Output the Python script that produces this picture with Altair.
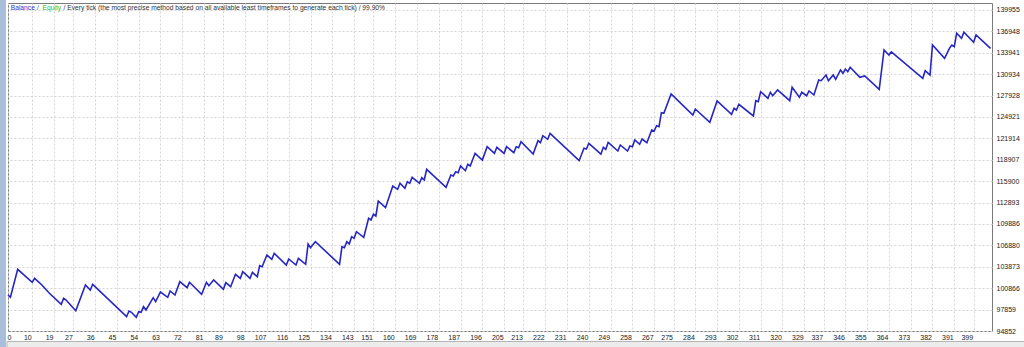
import altair as alt
import pandas as pd

# ---- data ----
trades = [0, 1, 4, 10, 11, 14, 17, 22, 23, 24, 28, 32, 34, 35, 49, 50, 51, 53, 54, 55,
          56, 57, 60, 61, 63, 66, 67, 69, 71, 74, 75, 80, 82, 83, 85, 89, 90, 92, 94, 96,
          97, 100, 101, 103, 104, 105, 107, 109, 110, 115, 116, 119, 120, 123, 124, 125, 127, 137, 138, 139,
          140, 141, 142, 143, 144, 147, 149, 150, 151, 152, 153, 156, 159, 161, 162, 164, 165, 166, 167, 170,
          171, 172, 173, 181, 183, 184, 185, 186, 187, 189, 190, 191, 193, 196, 198, 201, 202, 205, 206, 209,
          210, 211, 212, 217, 219, 220, 221, 223, 224, 236, 238, 239, 240, 245, 246, 247, 248, 252, 253, 256,
          257, 258, 259, 261, 262, 264, 266, 267, 268, 269, 270, 271, 274, 283, 284, 290, 293, 299, 300, 301,
          302, 308, 309, 310, 311, 314, 315, 316, 318, 323, 324, 327, 328, 330, 331, 333, 335, 336, 338, 339,
          341, 342, 344, 345, 346, 347, 348, 352, 354, 360, 362, 364, 365, 378, 379, 381, 382, 387, 389, 390,
          391, 392, 394, 395, 399, 400, 406]

balance = [99910, 99587, 103521, 101694, 102256, 101315, 100191, 98603, 99446, 99208,
           97704, 101315, 100613, 101413, 96861, 97662, 97479, 96777, 97564, 97479,
           98266, 97803, 99531, 98969, 100332, 99587, 100472, 99910, 101779, 100936,
           101694, 100008, 101694, 101217, 102018, 100711, 101638, 101076, 102818, 102256,
           103184, 102256, 103099, 102481, 104027, 103886, 105530, 104926, 105769, 104125,
           104968, 104125, 105066, 104223, 107076, 106556, 107399, 104223, 106696, 106556,
           107399, 107076, 108101, 107876, 108804, 108017, 110686, 110448, 111248, 111010,
           113117, 112176, 115225, 114761, 115604, 114901, 115829, 115604, 116447, 115604,
           116391, 116068, 117571, 115042, 116770, 116630, 117234, 117093, 118035, 117374,
           118273, 118035, 119819, 118878, 120746, 119819, 120662, 119819, 120746, 119903,
           120746, 120606, 121449, 119721, 121589, 121308, 122292, 121786, 122629, 118779,
           120521, 120423, 121224, 119692, 120662, 120381, 121364, 120142, 120985, 120142,
           120845, 120746, 121688, 121083, 121828, 121308, 123093, 122952, 123697, 123556,
           125523, 125439, 128151, 125200, 126043, 124174, 127167, 125298, 126141, 125903,
           126703, 125060, 127209, 127069, 128474, 127546, 128389, 127912, 128713, 127209,
           129092, 127687, 128389, 127912, 128572, 128010, 130118, 130019, 130820, 130019,
           130820, 130216, 131523, 131059, 131663, 131284, 131902, 130497, 130680, 128811,
           134333, 133630, 134052, 130356, 131424, 130820, 135035, 133166, 134571, 135035,
           134796, 136679, 135976, 136819, 135414, 136440, 134571]

x_ticks = [0, 10, 19, 27, 36, 45, 54, 63, 72, 81, 89, 98, 107, 116, 125, 134, 143, 151,
           160, 169, 178, 187, 196, 205, 213, 222, 231, 240, 249, 258, 267, 275, 284, 293,
           302, 311, 320, 329, 337, 346, 355, 364, 373, 382, 391, 399]
y_ticks = [94852, 97859, 100866, 103873, 106880, 109886, 112893, 115900, 118907,
           121914, 124921, 127928, 130934, 133941, 136948, 139955]

header_parts = ["Balance", "/", "Equity",
                "/ Every tick (the most precise method based on all available least timeframes to generate each tick) / 99.90%"]

df = pd.DataFrame({"trade": trades, "balance": balance})

FONT = "Liberation Sans"
x_scale = alt.Scale(domain=[0, 406.6], nice=False, zero=False)
y_scale = alt.Scale(domain=[94852, 140936], nice=False, zero=False)

line = alt.Chart(df).mark_line(color="#2626c4", strokeWidth=1.6).encode(
    x=alt.X("trade:Q", scale=x_scale,
            axis=alt.Axis(values=x_ticks, orient="bottom", grid=True, gridColor="#d4d4d4",
                          gridDash=[2, 2], ticks=False, domain=False, labelFont=FONT,
                          labelFontSize=7, labelColor="#202020",
                          labelAlign={"condition": {"test": "datum.value == 0", "value": "left"},
                                      "value": "right"},
                          labelFlush=False, labelPadding=2, labelOffset=-1,
                          labelOverlap=False, title=None)),
    y=alt.Y("balance:Q", scale=y_scale,
            axis=alt.Axis(values=y_ticks, orient="right", grid=True, gridColor="#d4d4d4",
                          gridDash=[2, 2], ticks=False, domain=False, labelFont=FONT, format="d",
                          labelFontSize=7, labelColor="#202020", labelAlign="left",
                          labelPadding=4, labelOverlap=False, title=None)),
)

hdr_src = pd.DataFrame({"t": [0]})
cols = ["#3434c8", "#555555", "#2fc02f", "#333333"]
xs = [2.7, 29, 34.5, 55.5]
hdr = []
for txt, c, xp in zip(header_parts, cols, xs):
    hdr.append(alt.Chart(hdr_src).mark_text(text=txt, color=c, font=FONT, fontSize=6.7,
                                            align="left", baseline="middle").encode(
        x=alt.value(xp), y=alt.value(5)))

left_strip = alt.Chart(hdr_src).mark_rect(color="#a9bedb").encode(
    x=alt.value(-8), x2=alt.value(-2), y=alt.value(-3), y2=alt.value(344))
bottom_band = alt.Chart(hdr_src).mark_rect(color="#ececec", stroke="#b4b4b4", strokeWidth=1).encode(
    x=alt.value(-1), x2=alt.value(1017), y=alt.value(338.5), y2=alt.value(346))

chart = alt.layer(bottom_band, left_strip, line, *hdr).properties(
    width=984, height=328,
    autosize=alt.AutoSizeParams(type="none"),
    padding={"left": 8, "top": 3, "right": 32, "bottom": 16},
    background="white",
).configure_view(stroke="#7a7a7a", strokeWidth=1)

chart.save("out.html", embed_options={"renderer": "svg", "actions": False})
